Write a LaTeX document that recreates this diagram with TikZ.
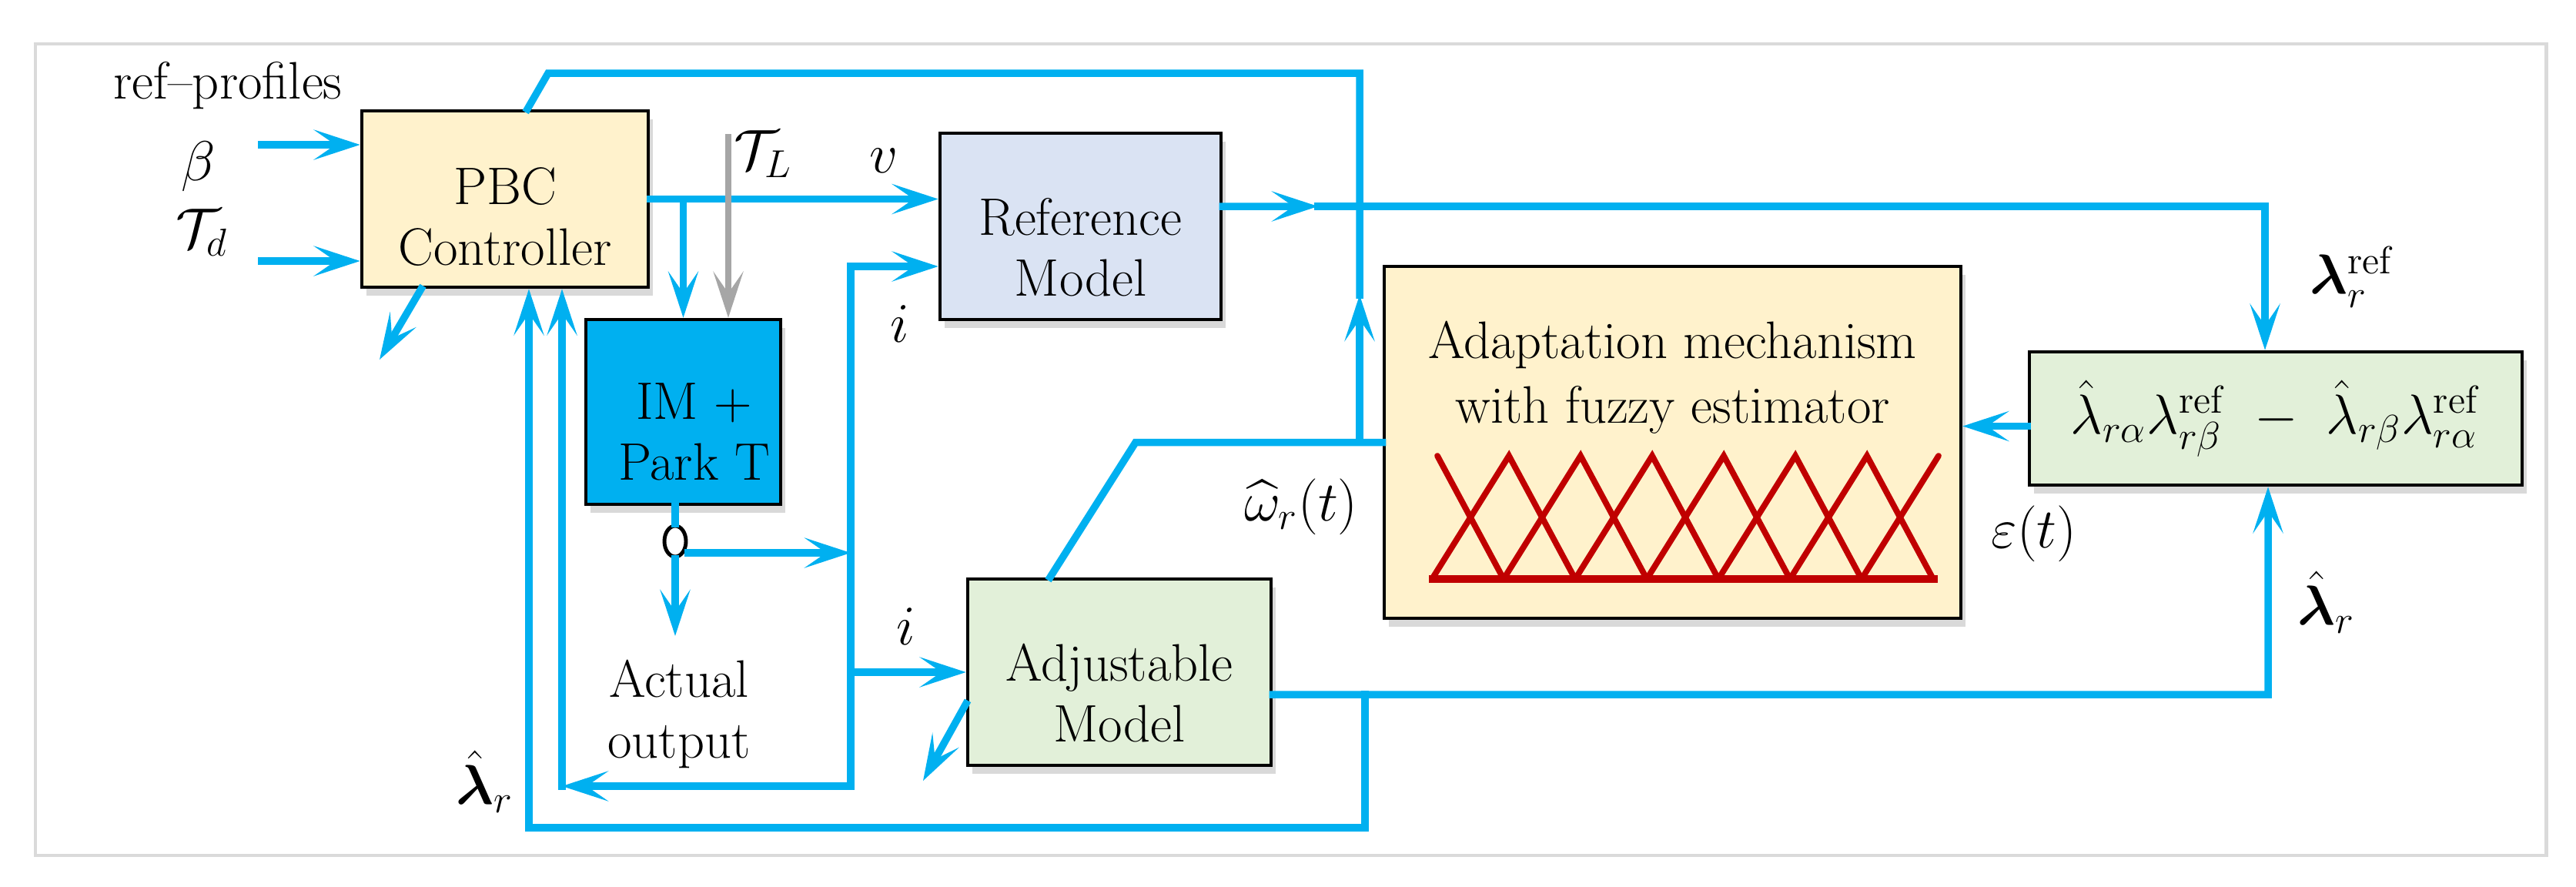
\documentclass[tikz,border=0pt]{standalone}
\usepackage{amsmath,bm}
\usetikzlibrary{arrows.meta,shapes.geometric,shadows}
\definecolor{flowblue}{HTML}{00B0F0}
\definecolor{pbcfill}{HTML}{FFF2CC}
\definecolor{reffill}{HTML}{DAE3F3}
\definecolor{adjfill}{HTML}{E2F0D9}
\definecolor{fuzzyred}{HTML}{C00000}
\definecolor{loadgray}{HTML}{A6A6A6}
\definecolor{framegray}{HTML}{DADADA}
\begin{document}
\begin{tikzpicture}[
    font=\fontsize{19.5}{22.5}\selectfont,
    block/.style={draw=black, line width=1.3pt, inner sep=0pt,
      drop shadow={shadow xshift=0.06cm, shadow yshift=-0.11cm, opacity=0.3}},
    mlab/.style={font=\fontsize{20.74}{25}\selectfont},
    link/.style={flowblue, line width=2.7pt, line cap=rect},
    flow/.style={link, -{Stealth[length=6mm, width=3.9mm, inset=2.8mm]}},
    fuzzy/.style={fuzzyred, line width=2.2pt, line cap=round},
  ]
  \useasboundingbox (0,0) rectangle (33.46,-11.51);
  \draw[framegray, line width=1.4pt] (0.46,-0.57) rectangle (33.07,-11.11);

  % blocks
  \node[block, fill=pbcfill, minimum width=3.72cm, minimum height=2.29cm,
    label={[align=center, yshift=-0.235cm]center:PBC\\Controller}] (pbc) at (6.56,-2.585) {};
  \node[block, fill=reffill, minimum width=3.65cm, minimum height=2.42cm,
    label={[align=center, yshift=-0.27cm]center:Reference\\Model}] (ref) at (14.035,-2.94) {};
  \node[block, fill=flowblue, minimum width=2.53cm, minimum height=2.40cm,
    label={[align=center, xshift=0.14cm, yshift=-0.26cm]center:IM +\\Park T}] (im) at (8.875,-5.35) {};
  \node[block, fill=adjfill, minimum width=3.94cm, minimum height=2.42cm,
    label={[align=center, yshift=-0.27cm]center:Adjustable\\Model}] (adj) at (14.54,-8.73) {};
  \node[block, fill=pbcfill, minimum width=7.49cm, minimum height=4.57cm,
    label={[align=center, font=\fontsize{19.5}{24}\selectfont, yshift=0.845cm]center:Adaptation mechanism\\with fuzzy estimator}] (adapt) at (21.725,-5.745) {};
  \node[block, fill=adjfill, minimum width=6.40cm, minimum height=1.73cm, mlab] (err) at (29.56,-5.435)
    {$\hat{\lambda}_{r\alpha}\lambda_{r\beta}^{\mathrm{ref}}\;-\;\hat{\lambda}_{r\beta}\lambda_{r\alpha}^{\mathrm{ref}}$};
  \node[ellipse, draw=black, line width=1.4pt, fill=white, minimum width=0.28cm,
    minimum height=0.40cm, inner sep=0pt] (ring) at (8.77,-7.03) {};

  % labels
  \node (profiles) at (2.96,-1.11) {ref–profiles};
  \node[mlab] (beta) at (2.58,-2.16) {$\beta$};
  \node[mlab] (td) at (2.62,-3.02) {$\mathcal{T}_d$};
  \node[mlab] (tl) at (9.91,-2.00) {$\mathcal{T}_L$};
  \node[mlab] (vlab) at (11.48,-2.09) {$v$};
  \node[mlab] (itoplab) at (11.69,-4.21) {$i$};
  \node[mlab] (iadjlab) at (11.77,-8.14) {$i$};
  \node[mlab] (omega) at (16.90,-6.58) {$\widehat{\omega}_r(t)$};
  \node[mlab] (eps) at (26.42,-6.93) {$\varepsilon(t)$};
  \node[mlab] (lref) at (30.56,-3.60) {$\bm{\lambda}_r^{\mathrm{ref}}$};
  \node[mlab] (lhatr) at (30.22,-7.82) {$\hat{\bm{\lambda}}_r$};
  \node[mlab] (lhatl) at (6.30,-10.15) {$\hat{\bm{\lambda}}_r$};
  \node[align=center] (actual) at (8.82,-9.27) {Actual\\output};

  % inputs
  \coordinate (betain) at (3.40,-1.88);
  \coordinate (tdin) at (3.40,-3.39);
  \coordinate (pbcaux) at (4.93,-4.67);
  \draw[flow] (betain) -- (betain -| pbc.west);
  \draw[flow] (tdin) -- (tdin -| pbc.west);
  \draw[flow] ([xshift=-1.09cm]pbc.south) -- (pbcaux);

  % speed estimate
  \coordinate (wbend) at (14.75,-5.745);
  \coordinate (wtop) at (17.66,-0.95);
  \coordinate (wtopl) at (7.12,-0.95);
  \coordinate (wtip) at (17.66,-3.83);
  \draw[link] (adapt.west) -- (wbend) -- ([xshift=-0.90cm]adj.north);
  \draw[flow] (wtop |- adapt.west) -- (wtip);
  \draw[link] (wtip) -- (wtop) -- (wtopl) -- ([xshift=0.29cm]pbc.north);

  % control voltage and load torque
  \coordinate (tlin) at (9.46,-1.74);
  \draw[flow] (pbc.east) -- (pbc.east -| ref.west);
  \draw[flow] (pbc.east -| im.north) -- (im.north);
  \draw[loadgray, line width=2.2pt, -{Stealth[length=6mm, width=3.9mm, inset=2.8mm]}]
    (tlin) -- (tlin |- im.north);

  % measured current
  \coordinate (itop) at (11.05,-3.46);
  \coordinate (ibot) at (11.05,-10.21);
  \coordinate (imeas) at (11.05,-7.18);
  \coordinate (iret) at (7.30,-10.21);
  \coordinate (actout) at (8.77,-8.26);
  \draw[link] (ring.north |- im.south) -- (ring.north);
  \draw[flow] (imeas -| ring.east) -- (imeas);
  \draw[flow] (ring.south) -- (actout);
  \draw[flow] (ibot) -- (itop) -- (itop -| ref.west);
  \draw[flow] (ibot |- adj.west) -- (adj.west);
  \draw[flow] (ibot) -- (iret);
  \draw[flow] (iret) -- (iret |- pbc.south);

  % estimated flux
  \coordinate (lout) at (29.46,-9.02);
  \coordinate (lbr) at (17.73,-9.02);
  \coordinate (lbl) at (6.87,-10.75);
  \coordinate (adjaux) at (11.99,-10.14);
  \draw[flow] ([yshift=-0.29cm]adj.east) -- (lout) -- (lout |- err.south);
  \draw[flow] (lbr) -- (lbr |- lbl) -- (lbl) -- (lbl |- pbc.south);
  \draw[flow] ([yshift=-0.41cm]adj.west) -- (adjaux);

  % reference flux and error
  \coordinate (rmid) at (17.12,-2.68);
  \coordinate (rout) at (29.42,-2.68);
  \coordinate (errout) at ([yshift=-0.10cm]err.west);
  \draw[flow] ([yshift=0.26cm]ref.east) -- (rmid);
  \draw[flow] (rmid) -- (rout) -- (rout |- err.north);
  \draw[flow] (errout) -- (errout -| adapt.east);

  % fuzzy sets
  \foreach \k in {1,...,6}
    \draw[fuzzy] ({18.60+0.93*(\k-1)},-7.52) -- ({18.67+0.93*\k},-5.92)
      -- ({18.60+0.93*(\k+1)},-7.52);
  \draw[fuzzy] (18.67,-5.92) -- (19.53,-7.52);
  \draw[fuzzy] (24.18,-7.52) -- (25.18,-5.92);
  \draw[fuzzy, line width=2.8pt, line cap=butt] (18.56,-7.52) -- (25.17,-7.52);
\end{tikzpicture}
\end{document}
